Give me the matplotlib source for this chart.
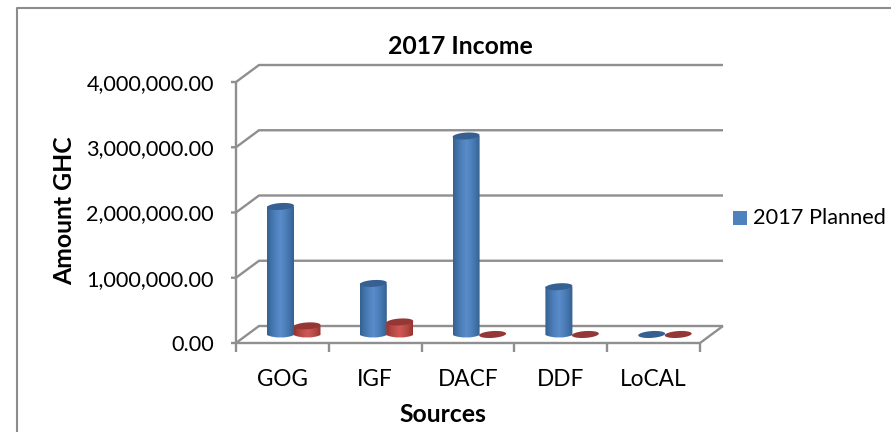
import matplotlib
matplotlib.use("Agg")
import matplotlib.pyplot as plt
import numpy as np
from matplotlib.colors import LinearSegmentedColormap
from matplotlib.patches import PathPatch, Polygon, Rectangle
from matplotlib.path import Path

categories = ["GOG", "IGF", "DACF", "DDF", "LoCAL"]
planned = [1970000, 790000, 3050000, 740000, 8000]
actual = [140000, 200000, 8000, 8000, 8000]
y_ticks = [0, 1000000, 2000000, 3000000, 4000000]
y_tick_labels = ["0.00", "1,000,000.00", "2,000,000.00", "3,000,000.00", "4,000,000.00"]

W, H = 891, 432
plt.rcParams['font.family'] = ['Lato', 'DejaVu Sans']
GRID = "#8f8f8f"

fig = plt.figure(figsize=(W / 100, H / 100), dpi=100)
ax = fig.add_axes([236 / W, 1 - 343 / H, 464 / W, 261 / H])
ax.set_xlim(0, 5)
ax.set_ylim(0, 4000000)
ax.axis("off")

# pixels to data
px = 5 / 464
py = 4000000 / 261
depth_x = 23 * px
depth_y = 17 * py


def seg(xs, ys, lw=1.7):
    ax.plot(xs, ys, color=GRID, lw=lw, clip_on=False, solid_capstyle="butt", zorder=2)


# back wall gridlines and the slanted bits
for t in y_ticks:
    seg([-5 * px, 0, depth_x, 5 + depth_x], [t, t, t + depth_y, t + depth_y])
seg([0, 0], [0, 4000000])
seg([0, 5, 5 + depth_x], [0, 0, depth_y])
for i in range(6):
    seg([i, i], [0, -9 * py])

blue_cm = LinearSegmentedColormap.from_list("b", ["#36618f", "#4273ab", "#4f81bd", "#5a8ccb", "#4f81bd", "#4273ab", "#36618f"])
red_cm = LinearSegmentedColormap.from_list("r", ["#96332f", "#b0443f", "#c0504d", "#cf5855", "#c0504d", "#b0443f", "#96332f"])
grad = np.linspace(0, 1, 64).reshape(1, -1)


def cap(xc, yc, color):
    # slightly tilted ellipse for the top of a cylinder, worked out in pixels
    t = np.linspace(0, 2 * np.pi, 60)
    a, b, tilt = 13.5, 3.4, np.radians(4)
    dx = a * np.cos(t) * np.cos(tilt) - b * np.sin(t) * np.sin(tilt)
    dy = a * np.cos(t) * np.sin(tilt) + b * np.sin(t) * np.cos(tilt)
    ax.add_patch(Polygon(np.column_stack([xc + dx * px, yc + dy * py]), fc=color, ec="none", zorder=4, clip_on=False))


def cylinder(xc, value, cmap, top):
    w = 27 * px
    ry = 2.6 * py
    base = 8 * py
    top_y = base + value
    if value > 50000:
        verts = [(xc - w / 2, base), (xc - w / 2, top_y), (xc + w / 2, top_y), (xc + w / 2, base),
                 (xc + w / 4, base - ry * 1.3), (xc - w / 4, base - ry * 1.3), (xc - w / 2, base)]
        codes = [Path.MOVETO, Path.LINETO, Path.LINETO, Path.LINETO, Path.CURVE4, Path.CURVE4, Path.CURVE4]
        clip = PathPatch(Path(verts, codes), fc="none", ec="none", transform=ax.transData)
        ax.add_patch(clip)
        im = ax.imshow(grad, cmap=cmap, extent=[xc - w / 2, xc + w / 2, base - ry * 2, top_y],
                       aspect="auto", zorder=3)
        im.set_clip_path(clip)
    cap(xc, top_y, top)


for i in range(5):
    cylinder(i + 44.5 * px, planned[i], blue_cm, "#376092")
    cylinder(i + 71 * px, actual[i], red_cm, "#953735")

ax.set_xlim(0, 5)
ax.set_ylim(0, 4000000)

for t, lab in zip(y_ticks, y_tick_labels):
    ax.text(-22 * px, t - 2 * py, lab, ha="right", va="center", fontsize=15.6, color="black", clip_on=False)
for i, c in enumerate(categories):
    ax.text(i + 0.5, -37 * py, c, ha="center", va="center", fontsize=16.3, color="black")

fig.text(460 / W, 1 - 47 / H, "2017 Income", ha="center", va="center", fontsize=17.8, fontweight="bold")
fig.text(65 / W, 1 - 211 / H, "Amount GHC", ha="center", va="center", rotation=90, fontsize=17.8, fontweight="bold")
fig.text(443 / W, 1 - 414 / H, "Sources", ha="center", va="center", fontsize=17.8, fontweight="bold")

fig.add_artist(Rectangle((733 / W, 1 - 225 / H), 14 / W, 14 / H, fc="#4f81bd", ec="none", transform=fig.transFigure))
fig.text(753 / W, 1 - 218 / H, "2017 Planned", ha="left", va="center", fontsize=15.7)

# outer frame
fig.add_artist(plt.Line2D([16.5 / W, 16.5 / W, 1], [0, 1 - 7.5 / H, 1 - 7.5 / H], color="#8c8c8c", lw=1.5))

fig.savefig("out.png", dpi=100)
